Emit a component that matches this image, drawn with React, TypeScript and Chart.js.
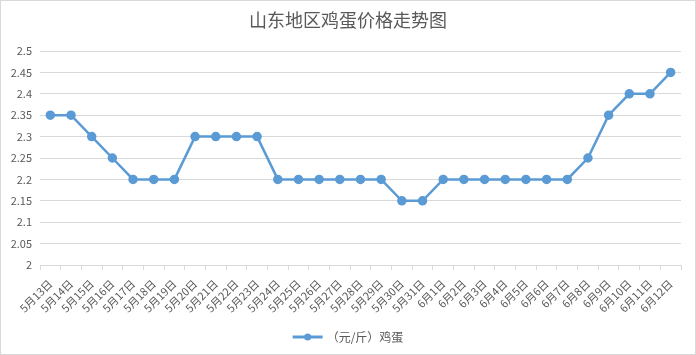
import React, { useEffect, useRef } from "react";
import { Chart, registerables } from "chart.js";

Chart.register(...registerables);

const TITLE = "山东地区鸡蛋价格走势图";
const SERIES_NAME = "（元/斤）鸡蛋";
const CATEGORIES = [
  "5月13日", "5月14日", "5月15日", "5月16日", "5月17日", "5月18日", "5月19日", "5月20日",
  "5月21日", "5月22日", "5月23日", "5月24日", "5月25日", "5月26日", "5月27日", "5月28日",
  "5月29日", "5月30日", "5月31日", "6月1日", "6月2日", "6月3日", "6月4日", "6月5日",
  "6月6日", "6月7日", "6月8日", "6月9日", "6月10日", "6月11日", "6月12日",
];
const PRICES = [
  2.35, 2.35, 2.3, 2.25, 2.2, 2.2, 2.2, 2.3,
  2.3, 2.3, 2.3, 2.2, 2.2, 2.2, 2.2, 2.2,
  2.2, 2.15, 2.15, 2.2, 2.2, 2.2, 2.2, 2.2,
  2.2, 2.2, 2.25, 2.35, 2.4, 2.4, 2.45,
];
const Y_MIN = 2;
const Y_MAX = 2.5;
const Y_STEP = 0.05;

const LINE_COLOR = "#5B9BD5";
const TEXT_COLOR = "#595959";
const GRID_COLOR = "#D9D9D9";
const FONT = "'Noto Sans CJK SC', 'Liberation Sans', sans-serif";

const titleLegendPlugin = {
  id: "titleLegend",
  afterDraw(chart: any) {
    const ctx = chart.ctx as CanvasRenderingContext2D;
    const w = chart.width;
    ctx.save();
    ctx.fillStyle = TEXT_COLOR;
    ctx.font = `18px ${FONT}`;
    ctx.textAlign = "center";
    ctx.textBaseline = "middle";
    ctx.fillText(TITLE, w / 2, 20);
    ctx.font = `12px ${FONT}`;
    const textW = ctx.measureText(SERIES_NAME).width;
    const lineW = 30;
    const gap = 4;
    const total = lineW + gap + textW;
    const x0 = w / 2 - total / 2;
    const y = 337;
    ctx.strokeStyle = LINE_COLOR;
    ctx.lineWidth = 3;
    ctx.beginPath();
    ctx.moveTo(x0, y);
    ctx.lineTo(x0 + lineW, y);
    ctx.stroke();
    ctx.fillStyle = LINE_COLOR;
    ctx.beginPath();
    ctx.arc(x0 + lineW / 2, y, 3.5, 0, Math.PI * 2);
    ctx.fill();
    ctx.fillStyle = TEXT_COLOR;
    ctx.textAlign = "left";
    ctx.fillText(SERIES_NAME, x0 + lineW + gap, y);
    ctx.restore();
  },
};

const bgPlugin = {
  id: "bg",
  beforeDraw(chart: any) {
    const ctx = chart.ctx as CanvasRenderingContext2D;
    ctx.save();
    ctx.fillStyle = "#FFFFFF";
    ctx.fillRect(0, 0, chart.width, chart.height);
    ctx.strokeStyle = GRID_COLOR;
    ctx.lineWidth = 1;
    ctx.strokeRect(0.5, 0.5, chart.width - 1, chart.height - 1);
    ctx.restore();
  },
};

export default function App() {
  const ref = useRef<HTMLCanvasElement | null>(null);
  useEffect(() => {
    document.body.style.margin = "0";
    if (!ref.current) return;
    const chart = new Chart(ref.current, {
      type: "line",
      data: {
        labels: CATEGORIES,
        datasets: [
          {
            label: SERIES_NAME,
            data: PRICES,
            borderColor: LINE_COLOR,
            backgroundColor: LINE_COLOR,
            borderWidth: 2.5,
            pointRadius: 3.5,
            pointBackgroundColor: LINE_COLOR,
            pointBorderColor: LINE_COLOR,
            tension: 0,
          },
        ],
      },
      options: {
        animation: false,
        responsive: false,
        maintainAspectRatio: false,
        layout: { padding: { top: 51, right: 15, left: 0, bottom: 0 } },
        plugins: {
          legend: { display: false },
          title: { display: false },
          tooltip: { enabled: false },
        },
        scales: {
          x: {
            type: "category",
            offset: true,
            grid: {
              display: true,
              drawOnChartArea: false,
              drawTicks: true,
              tickLength: 5,
              color: GRID_COLOR,
              offset: true,
            },
            border: { display: true, color: GRID_COLOR },
            ticks: {
              autoSkip: false,
              minRotation: 45,
              maxRotation: 45,
              padding: 7,
              color: TEXT_COLOR,
              font: { family: FONT, size: 11 },
            },
            afterFit(scale: any) {
              scale.height = 90;
            },
          },
          y: {
            min: Y_MIN,
            max: Y_MAX,
            grid: {
              color: GRID_COLOR,
              drawTicks: false,
              tickLength: 0,
            },
            border: { display: false },
            ticks: {
              stepSize: Y_STEP,
              padding: 8,
              color: TEXT_COLOR,
              font: { family: FONT, size: 11 },
              callback: (v: any) => String(Number(Number(v).toFixed(2))),
            },
            afterFit(scale: any) {
              scale.width = 40;
            },
          },
        },
      },
      plugins: [bgPlugin, titleLegendPlugin],
    } as any);
    return () => chart.destroy();
  }, []);
  return (
    <div style={{ position: "absolute", left: 0, top: 0, width: 696, height: 355 }}>
      <canvas ref={ref} width={696} height={355} style={{ width: 696, height: 355 }} />
    </div>
  );
}
